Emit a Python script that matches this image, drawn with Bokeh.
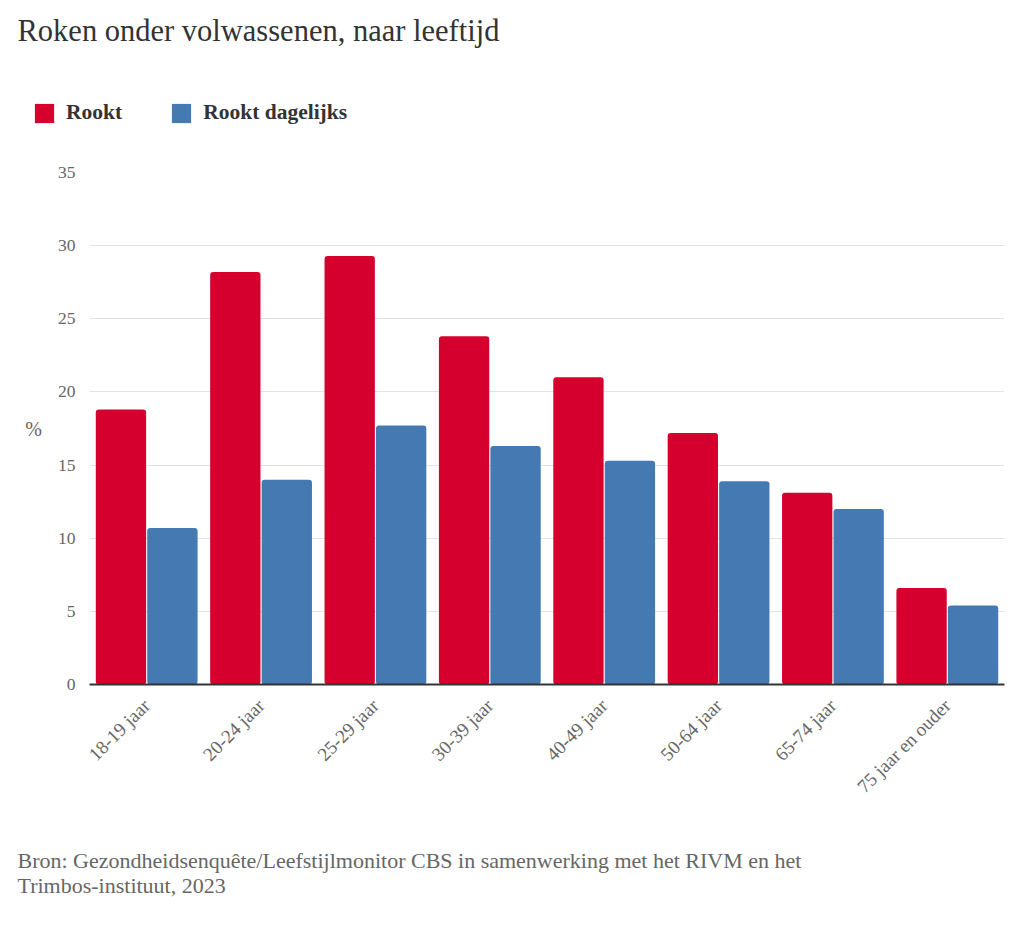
from bokeh.plotting import figure
from bokeh.layouts import column
from bokeh.models import Label, Legend, LegendItem, FixedTicker, FactorRange, Range1d, ColumnDataSource
from bokeh.transform import dodge
from bokeh.embed import file_html
from bokeh.resources import INLINE
import math

categories = ["18-19 jaar", "20-24 jaar", "25-29 jaar", "30-39 jaar",
              "40-49 jaar", "50-64 jaar", "65-74 jaar", "75 jaar en ouder"]
rookt = [18.8, 28.2, 29.3, 23.8, 21.0, 17.2, 13.1, 6.6]
rookt_dagelijks = [10.7, 14.0, 17.7, 16.3, 15.3, 13.9, 12.0, 5.4]
y_ticks = [0, 5, 10, 15, 20, 25, 30, 35]
series_names = ["Rookt", "Rookt dagelijks"]
title_text = "Roken onder volwassenen, naar leeftijd"
source_lines = ["Bron: Gezondheidsenquête/Leefstijlmonitor CBS in samenwerking met het RIVM en het",
                "Trimbos-instituut, 2023"]

RED = "#D5002D"
BLUE = "#4479B1"
FONT = "Liberation Serif"
W = 1008


def blank(height):
    f = figure(width=W, height=height, x_range=Range1d(0, W), y_range=Range1d(0, height),
               x_axis_type=None, y_axis_type=None, output_backend="svg",
               toolbar_location=None, tools="", min_border=0)
    f.frame_align = False
    f.outline_line_color = None
    f.xgrid.visible = False
    f.ygrid.visible = False
    return f


# ---------- header: title + legend ----------
HH = 150
header = blank(HH)
header.add_layout(Label(x=17, y=HH - 30, x_units="screen", y_units="screen", text=title_text,
                        text_font=FONT, text_font_size="30.5px", text_color="#333333",
                        text_baseline="alphabetic"))
# zero-height swatch renderers for the legend
h1 = header.vbar(x=[0], top=[0], bottom=[0], width=0, fill_color=RED, line_color=None)
h2 = header.vbar(x=[0], top=[0], bottom=[0], width=0, fill_color=BLUE, line_color=None)
legend = Legend(items=[LegendItem(label=series_names[0], renderers=[h1]),
                       LegendItem(label=series_names[1], renderers=[h2])],
                orientation="horizontal", location=(32, HH - 125),
                label_text_font=FONT, label_text_font_size="21.5px", label_text_font_style="bold",
                label_text_color="#333333", glyph_width=24, glyph_height=24, label_height=24,
                spacing=47, label_standoff=10, padding=0, margin=0,
                border_line_color=None, background_fill_alpha=0)
header.add_layout(legend, "center")

# ---------- main chart ----------
src = ColumnDataSource(dict(cat=categories, rookt=rookt, dag=rookt_dagelijks))
p = figure(width=W, height=669, x_range=FactorRange(*categories), y_range=Range1d(0, 35),
           output_backend="svg", toolbar_location=None, tools="",
           min_border_left=89, min_border_right=4, min_border_top=22, min_border_bottom=135)
p.frame_align = False
p.outline_line_color = None

p.vbar(x=dodge("cat", -0.225, range=p.x_range), top="rookt", width=0.44, source=src,
       fill_color=RED, line_color=None, border_radius=3)
p.vbar(x=dodge("cat", 0.225, range=p.x_range), top="dag", width=0.44, source=src,
       fill_color=BLUE, line_color=None, border_radius=3)

p.yaxis.ticker = FixedTicker(ticks=y_ticks)
p.yaxis.axis_line_color = None
p.yaxis.major_tick_line_color = None
p.yaxis.minor_tick_line_color = None
p.yaxis.major_label_text_font = FONT
p.yaxis.major_label_text_font_size = "17.5px"
p.yaxis.major_label_text_color = "#666666"
p.yaxis.major_label_standoff = 8
p.yaxis.axis_label = "%"
p.yaxis.axis_label_orientation = "horizontal"
p.yaxis.axis_label_text_font = FONT
p.yaxis.axis_label_text_font_size = "20px"
p.yaxis.axis_label_text_font_style = "normal"
p.yaxis.axis_label_text_color = "#666666"
p.yaxis.axis_label_standoff = 13

p.xaxis.axis_line_color = "#333333"
p.xaxis.axis_line_width = 2
p.xaxis.major_tick_line_color = None
p.xaxis.minor_tick_line_color = None
p.xaxis.major_label_orientation = math.pi / 4
p.xaxis.major_label_text_font = FONT
p.xaxis.major_label_text_font_size = "19px"
p.xaxis.major_label_text_color = "#666666"
p.xaxis.major_label_standoff = 12

p.xgrid.grid_line_color = None
p.ygrid.grid_line_color = "#E3E3E3"
p.ygrid.grid_line_width = 1

# ---------- footer: source ----------
FH = 96
footer = blank(FH)
footer.add_layout(Label(x=17, y=FH - 41, x_units="screen", y_units="screen",
                        text=source_lines[0], text_font=FONT, text_font_size="22px",
                        text_color="#666666", text_baseline="alphabetic"))
footer.add_layout(Label(x=17, y=FH - 66, x_units="screen", y_units="screen",
                        text=source_lines[1], text_font=FONT, text_font_size="22px",
                        text_color="#666666", text_baseline="alphabetic"))

layout = column(header, p, footer, spacing=0)
open("out.html", "w").write(file_html(layout, INLINE))
